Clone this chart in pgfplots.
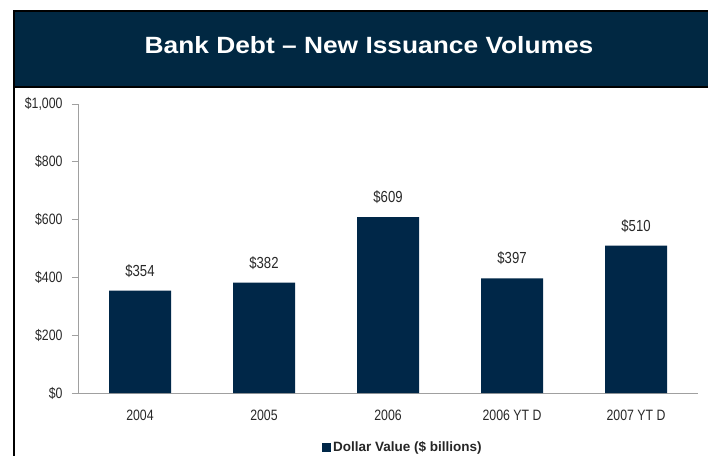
\documentclass[border=0pt]{standalone}
\usepackage{fontspec}
\setmainfont{Liberation Sans}
\newfontfamily\narrow{Liberation Sans}[FakeStretch=0.82]
\newfontfamily\titlefont{Liberation Sans}[FakeStretch=1.12]
\usepackage{pgfplots}
\pgfplotsset{compat=1.18}
\definecolor{navy}{RGB}{0,39,72}
\definecolor{banner}{RGB}{1,40,66}
\definecolor{axgray}{RGB}{160,160,160}
\definecolor{txt}{RGB}{40,40,40}
\begin{document}
\begin{tikzpicture}
\useasboundingbox (0pt,0pt) rectangle (708pt,-456pt);
\fill[white] (0pt,0pt) rectangle (708pt,-456pt);
\fill[banner] (14pt,-11pt) rectangle (708pt,-87pt);
\draw[black,line width=1.2pt] (14pt,-11pt) -- (708pt,-11pt);
\draw[black,line width=2pt] (14pt,-87pt) -- (708pt,-87pt);
\draw[black,line width=2.5pt] (14pt,-10.4pt) -- (14pt,-456pt);
\node[white,font=\titlefont\fontsize{23.5}{27}\selectfont\bfseries] at (369pt,-45pt) {Bank Debt – New Issuance Volumes};
\begin{axis}[
  at={(78pt,-393pt)}, anchor=south west,
  scale only axis, width=620pt, height=289pt,
  xmin=-0.5, xmax=4.5, ymin=0, ymax=1000,
  axis x line=bottom, axis y line=left,
  axis line style={-, axgray, line width=0.8pt},
  ytick={0,200,400,600,800,1000},
  yticklabels={\$0,\$200,\$400,\$600,\$800,{\$1,000}},
  xtick={0,1,2,3,4},
  xticklabels={2004,2005,2006,2006 YT D,2007 YT D},
  tick align=outside,
  major tick length=6pt,
  ytick style={axgray, line width=0.8pt},
  xtick style={draw=none},
  yticklabel style={font=\narrow\fontsize{15}{17}\selectfont, text=txt, xshift=-6pt},
  xticklabel style={font=\narrow\fontsize{15}{17}\selectfont, text=txt, yshift=-7pt},
  ybar, bar width=62pt,
  nodes near coords={\$\pgfmathprintnumber[assume math mode=true]{\pgfplotspointmeta}},
  nodes near coords style={font=\narrow\fontsize{16}{18}\selectfont, text=txt, anchor=south, inner sep=0pt, yshift=13pt},
  legend style={at={(0.524,-0.187)}, anchor=center, draw=none, fill=none,
    font=\fontsize{13.5}{15}\selectfont\bfseries, text=black!85,
    legend cell align=left},
  legend image code/.code={\fill[navy] (-3pt,-4.5pt) rectangle (6pt,4.5pt);},
]
\addplot[fill=navy, draw=none] coordinates {(0,354) (1,382) (2,609) (3,397) (4,510)};
\addlegendentry{Dollar Value (\$ billions)}
\end{axis}
\end{tikzpicture}
\end{document}
